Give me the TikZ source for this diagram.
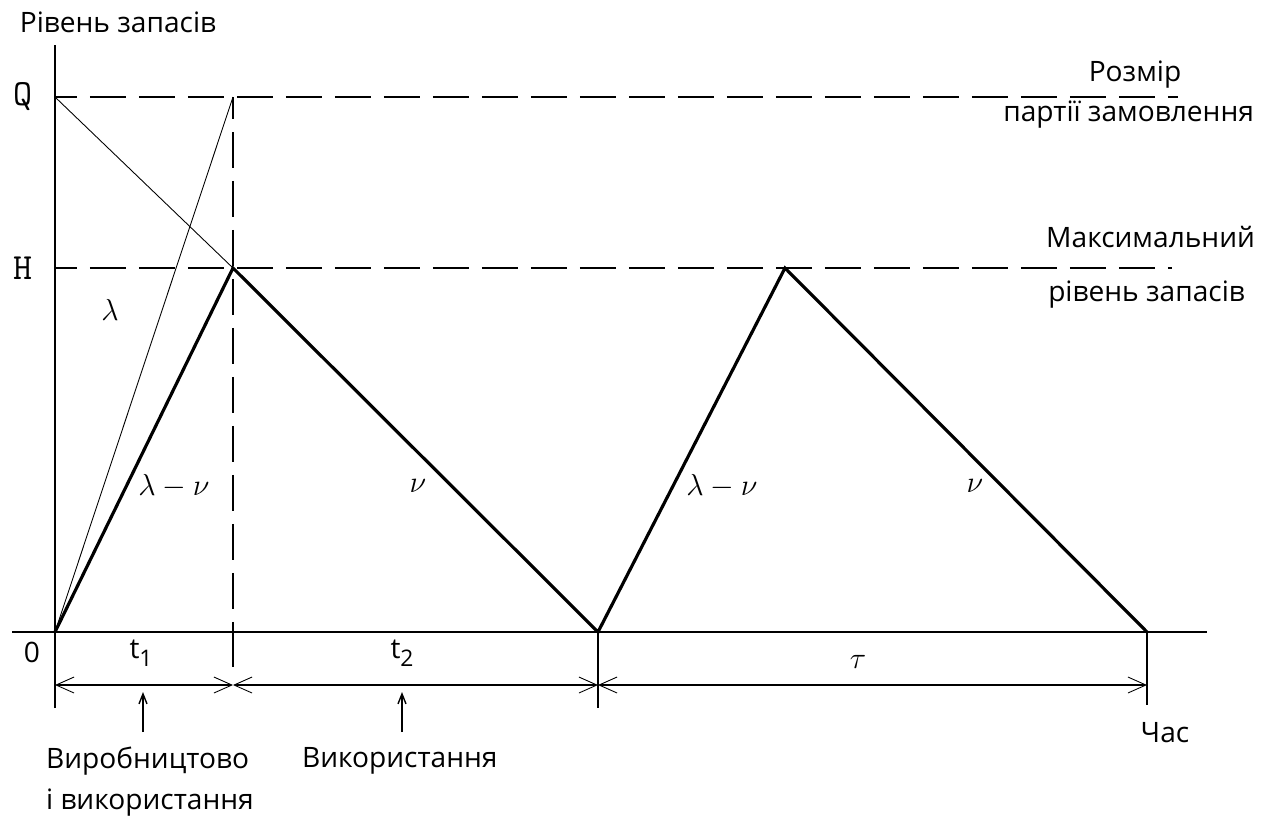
\documentclass[tikz,border=0pt]{standalone}
\usepackage[no-math]{fontspec}
\setmainfont{Open Sans}
\usetikzlibrary{arrows.meta}

\newcommand{\lowidx}[1]{\raisebox{-0.5ex}{\fontsize{13}{15}\selectfont #1}}

\begin{document}
\begin{tikzpicture}[
      x=0.02cm, y=-0.02cm,
      lbl/.style={font=\fontsize{16}{19}\selectfont, inner sep=1pt},
      mth/.style={font=\fontsize{19}{22}\selectfont, inner sep=1pt},
      lvl/.style={font=\fontsize{21}{25}\selectfont\ttfamily, inner sep=1pt},
      axis/.style={line width=1.1pt},
      stock/.style={line width=1.8pt, line join=miter},
      aux/.style={line width=0.5pt},
      guide/.style={line width=1pt, dash pattern=on 7.2mm off 2.6mm, dash phase=2.8mm},
      dim/.style={line width=0.8pt,
                  {Straight Barb[length=3.6mm, width=3.2mm, line width=0.5pt]}-{Straight Barb[length=3.6mm, width=3.2mm, line width=0.5pt]}},
      ptr/.style={line width=0.8pt, -{Straight Barb[length=2mm, width=1.6mm]}}
    ]
    \useasboundingbox (0,0) rectangle (1270,816);

    % опорні точки
    \coordinate (O) at (55,632);
    \coordinate (Q) at (55,97);
    \coordinate (H) at (55,268);
    \coordinate (q1) at (233,97);
    \coordinate (p1) at (233,268);
    \coordinate (b1) at (598,632);
    \coordinate (p2) at (785,268);
    \coordinate (b2) at (1147,632);
    \coordinate (qend) at (1178,97);
    \coordinate (hend) at (1172,268);

    % осі
    \draw[axis] (55,708) -- (55,45);
    \draw[axis] (12,632) -- (1207,632);

    % рівні Q і H
    \draw[guide] (Q) -- (qend);
    \draw[guide] (H) -- (hend);
    \draw[guide] (q1) -- (233,632);

    % допоміжні лінії
    \draw[aux] (O) -- (q1);
    \draw[aux] (Q) -- (p1);

    % рівень запасів
    \draw[stock] (O) -- (p1) -- (b1) -- (p2) -- (b2);

    % позначки на осі часу
    \draw[axis] (233,632) -- (233,667);
    \draw[axis] (b1) -- (598,708);
    \draw[axis] (b2) -- (1147,705);

    % розмірні лінії
    \coordinate (d0) at (55,685);
    \coordinate (d1) at (233,685);
    \coordinate (d2) at (598,685);
    \coordinate (d3) at (1147,685);
    \draw[dim] (d0) -- (d1);
    \draw[dim] (d1) -- (d2);
    \draw[dim] (d2) -- (d3);

    % підписи
    \node[lbl] (yttl) at (118,22) {Рівень запасів};
    \node[lvl] (qlbl) at (23,97) {Q};
    \node[lvl] (hlbl) at (23,268) {H};
    \node[lbl] (zero) at (32,652) {0};
    \node[mth] (lam) at (110,310) {$\lambda$};
    \node[mth] (rise1) at (174,486) {$\lambda - \nu$};
    \node[mth] (fall1) at (418,486) {$\nu$};
    \node[mth] (rise2) at (722,486) {$\lambda - \nu$};
    \node[mth] (fall2) at (975,486) {$\nu$};
    \node[lbl] (t1) at (141,653) {t\lowidx{1}};
    \node[lbl] (t2) at (402,653) {t\lowidx{2}};
    \node[mth] (tau) at (858,662) {$\tau$};
    \node[lbl] (time) at (1165,733) {Час};

    \node[lbl] (size1) at (1135,75) {Розмір};
    \node[lbl, anchor=east] (size2) at (1256,115) {партії замовлення};
    \node[lbl, anchor=east] (max1) at (1257,237) {Максимальний};
    \node[lbl, anchor=east] (max2) at (1247,295) {рівень запасів};

    \node[lbl, anchor=west] (prod1) at (44,761) {Виробництово};
    \node[lbl, anchor=west] (prod2) at (44,803) {і використання};
    \node[lbl, anchor=west] (use) at (300,761) {Використання};

    % стрілки до інтервалів
    \coordinate (a1) at (143,732);
    \coordinate (a2) at (402,732);
    \draw[ptr] (a1) -- (143,692);
    \draw[ptr] (a2) -- (402,692);
  \end{tikzpicture}
\end{document}
